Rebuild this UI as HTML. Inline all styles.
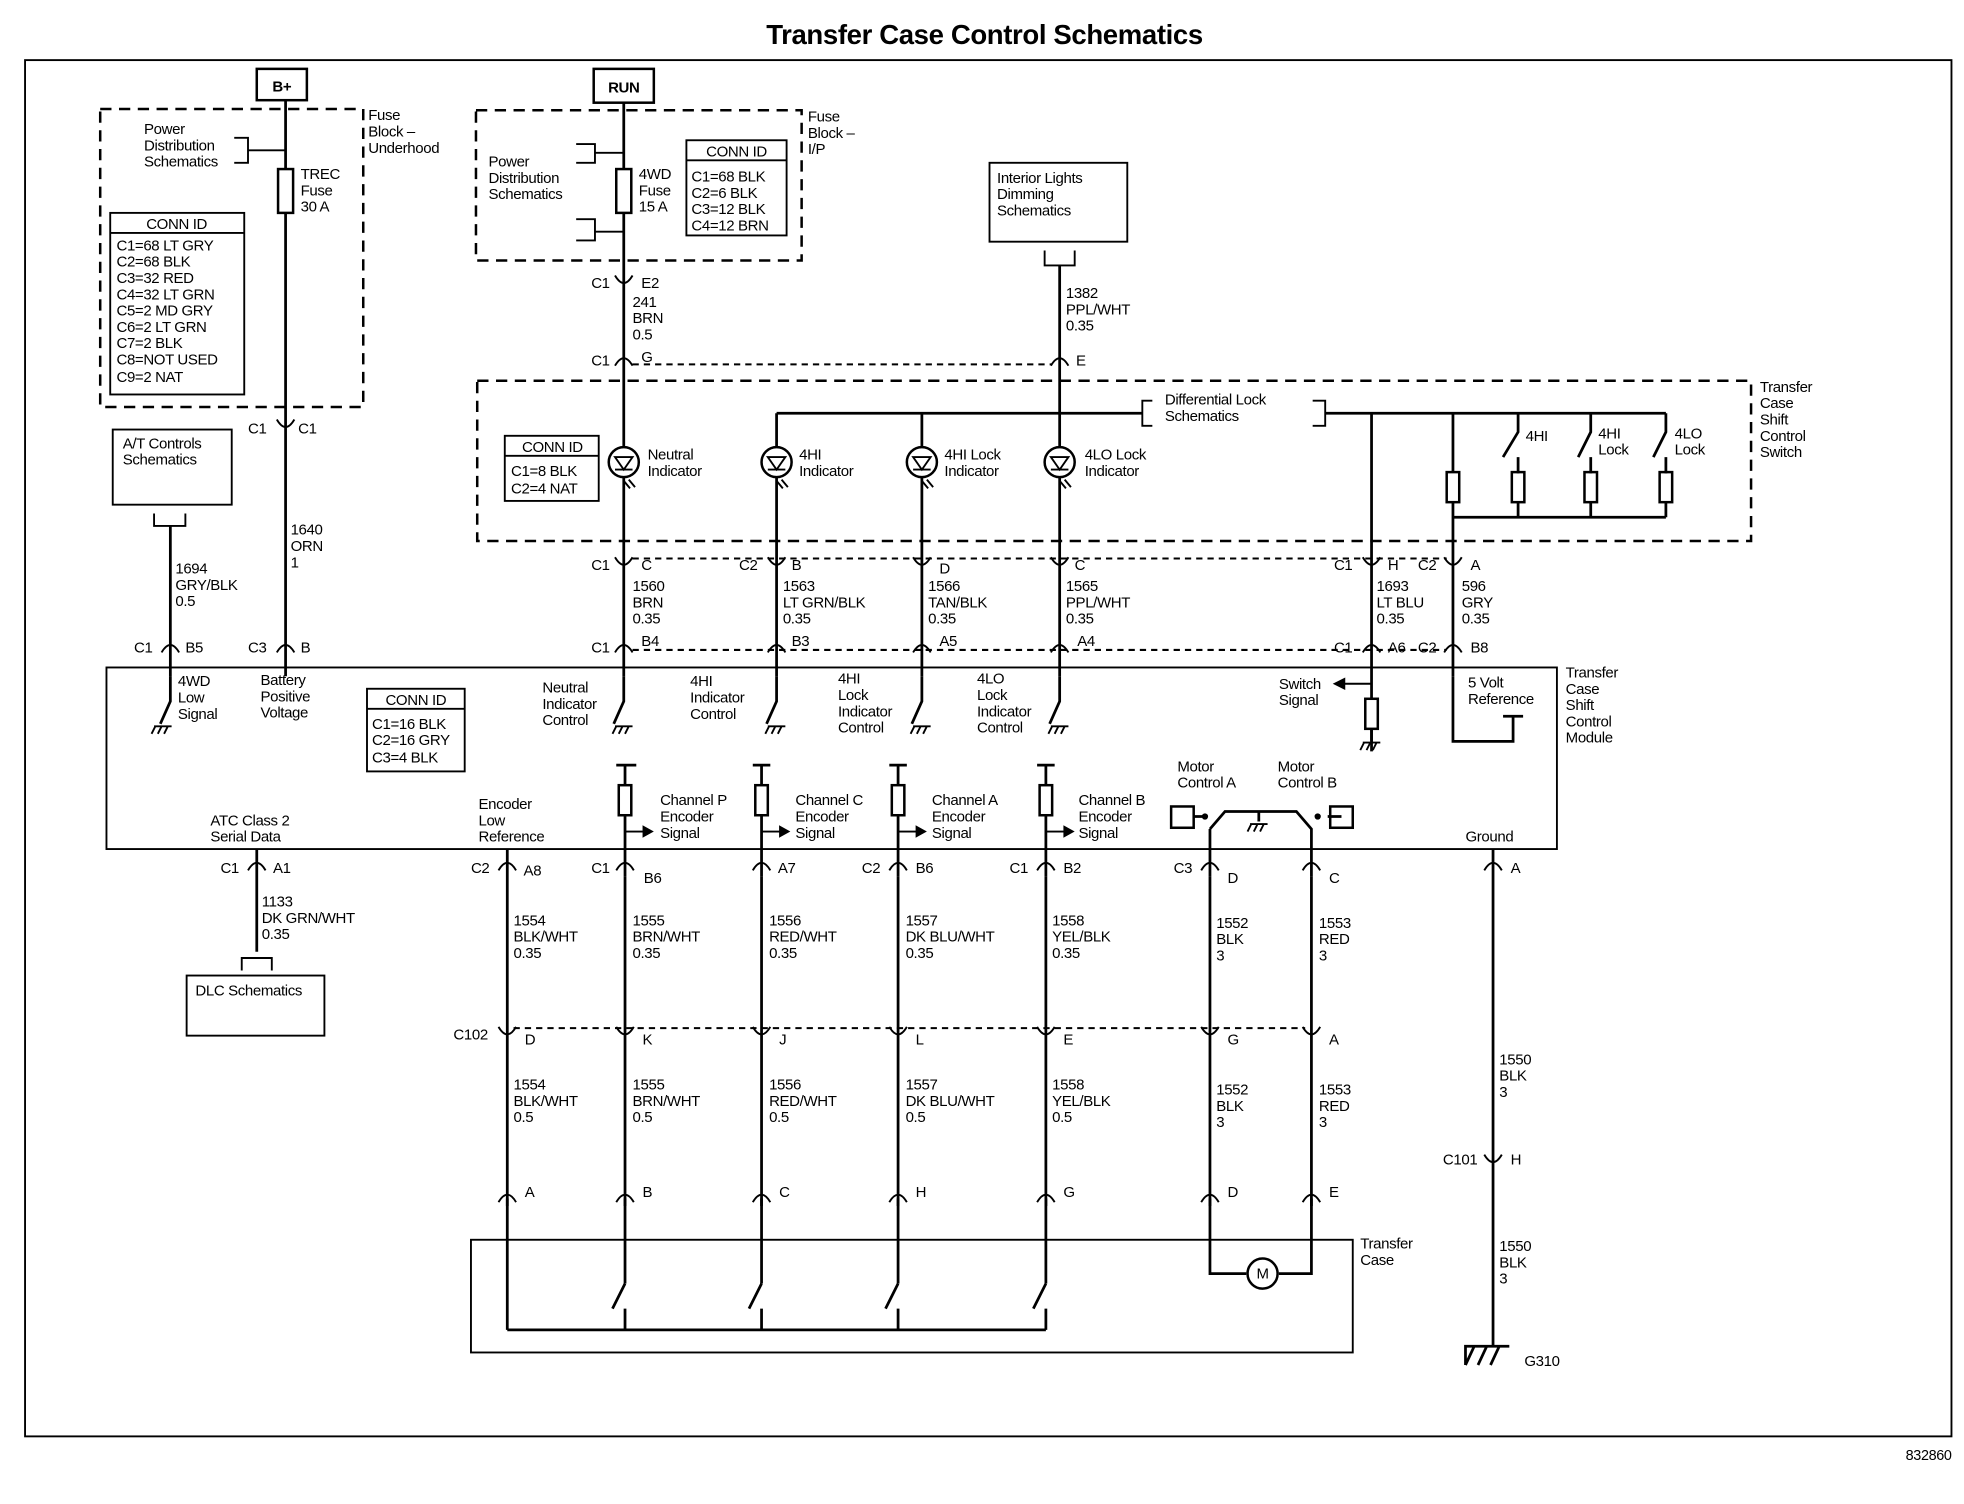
<!DOCTYPE html>
<html><head><meta charset="utf-8"><style>
html,body{margin:0;padding:0;background:#fff}
svg{display:block}
text{font-family:"Liberation Sans",sans-serif;font-size:12px;fill:#000;letter-spacing:-0.3px}
.t{font-size:11.5px}
.w{stroke:#000;stroke-width:2.2;fill:none}
.th{stroke:#000;stroke-width:1.5;fill:none}
.d{stroke:#000;stroke-width:2;fill:none;stroke-dasharray:9 6}
.dd{stroke:#000;stroke-width:1.6;fill:none;stroke-dasharray:5 4}
.b{stroke:#000;stroke-width:2;fill:#fff}
</style></head><body>
<svg width="1964" height="1504" viewBox="0 0 1568 1201" preserveAspectRatio="none" xmlns="http://www.w3.org/2000/svg">
<defs>
<g id="cn"><path d="M-7,5 Q0,-7 7,5" class="th" stroke-width="2"/></g>
<g id="cu"><path d="M-7,-5 Q0,7 7,-5" class="th" stroke-width="2"/></g>
<g id="gnd"><path d="M-7,0 H7 M-6,0 L-9,6 M-1,0 L-4,6 M4,0 L1,6" class="th"/></g>
<g id="led"><circle r="12" class="b"/><path d="M-7,-4 H7 L0,6 Z M-7,6 H7" class="th"/><path d="M4,14 L9,20 M0,15 L5,21" class="th" stroke-width="1"/></g>
<g id="res"><rect x="-5" y="-12" width="10" height="24" class="b" stroke-width="1.5"/></g>
</defs>
<text x="786" y="35" text-anchor="middle" style="font-size:22px;font-weight:bold">Transfer Case Control Schematics</text>
<rect x="20" y="48" width="1538" height="1099" class="th" stroke-width="1.8"/>
<text x="1558" y="1166" text-anchor="end" class="t">832860</text>

<rect x="205" y="55" width="40" height="25" class="b" stroke-width="3"/><text x="225" y="73" text-anchor="middle" style="font-weight:bold">B+</text>
<rect x="80" y="87" width="210" height="238" class="d"/>
<path d="M228,80 V540" class="w"/>
<rect x="222" y="135" width="12" height="35" class="b" stroke-width="1.5"/>
<text x="240" y="143">TREC</text><text x="240" y="156">Fuse</text><text x="240" y="169">30 A</text>
<text x="294" y="96">Fuse</text><text x="294" y="109">Block –</text><text x="294" y="122">Underhood</text>
<text x="115" y="107">Power</text><text x="115" y="120">Distribution</text><text x="115" y="133">Schematics</text>
<path d="M187,110 H198 V130 H187 M198,120 H228" class="th"/>
<rect x="88" y="170" width="107" height="145" class="th" stroke-width="2"/>
<path d="M88,186 H195" class="th"/>
<text x="141" y="183" text-anchor="middle">CONN ID</text>
<text x="93" y="200">C1=68 LT GRY</text><text x="93" y="213">C2=68 BLK</text><text x="93" y="226">C3=32 RED</text><text x="93" y="239">C4=32 LT GRN</text><text x="93" y="252">C5=2 MD GRY</text><text x="93" y="265">C6=2 LT GRN</text><text x="93" y="278">C7=2 BLK</text><text x="93" y="291">C8=NOT USED</text><text x="93" y="305">C9=2 NAT</text>
<use href="#cu" x="228" y="340"/><text x="198" y="346">C1</text><text x="238" y="346">C1</text>
<text x="232" y="427">1640</text><text x="232" y="440">ORN</text><text x="232" y="453">1</text>
<use href="#cn" x="228" y="516"/><text x="198" y="521">C3</text><text x="240" y="521">B</text>

<rect x="90" y="343" width="95" height="60" class="th" stroke-width="2"/>
<text x="98" y="358">A/T Controls</text><text x="98" y="371">Schematics</text>
<path d="M123,410 V420 H148 V410 M136,420 V540" class="th"/><path d="M136,420 V540" class="w"/>
<text x="140" y="458">1694</text><text x="140" y="471">GRY/BLK</text><text x="140" y="484">0.5</text>
<use href="#cn" x="136" y="516"/><text x="107" y="521">C1</text><text x="148" y="521">B5</text>

<rect x="85" y="533" width="1158" height="145" class="th" stroke-width="2"/>
<text x="1250" y="541">Transfer</text><text x="1250" y="554">Case</text><text x="1250" y="567">Shift</text><text x="1250" y="580">Control</text><text x="1250" y="593">Module</text>
<path d="M136,540 V560 L128,578" class="w"/><use href="#gnd" x="130" y="580"/>
<text x="142" y="548">4WD</text><text x="142" y="561">Low</text><text x="142" y="574">Signal</text>
<text x="208" y="547">Battery</text><text x="208" y="560">Positive</text><text x="208" y="573">Voltage</text>
<rect x="293" y="550" width="78" height="66" class="th" stroke-width="2"/><path d="M293,566 H371" class="th"/>
<text x="332" y="563" text-anchor="middle">CONN ID</text><text x="297" y="582">C1=16 BLK</text><text x="297" y="595">C2=16 GRY</text><text x="297" y="609">C3=4 BLK</text>

<rect x="474" y="55" width="48" height="27" class="b" stroke-width="3"/><text x="498" y="74" text-anchor="middle" style="font-weight:bold">RUN</text>
<rect x="380" y="88" width="260" height="120" class="d"/>
<path d="M498,82 V540" class="w"/>
<rect x="492" y="135" width="12" height="35" class="b" stroke-width="1.5"/>
<text x="510" y="143">4WD</text><text x="510" y="156">Fuse</text><text x="510" y="169">15 A</text>
<text x="645" y="97">Fuse</text><text x="645" y="110">Block –</text><text x="645" y="123">I/P</text>
<text x="390" y="133">Power</text><text x="390" y="146">Distribution</text><text x="390" y="159">Schematics</text>
<path d="M460,115 H475 V130 H460 M475,122 H498 M460,175 H475 V192 H460 M475,185 H498" class="th"/>
<rect x="548" y="112" width="80" height="76" class="th" stroke-width="2"/><path d="M548,128 H628" class="th"/>
<text x="588" y="125" text-anchor="middle">CONN ID</text><text x="552" y="145">C1=68 BLK</text><text x="552" y="158">C2=6 BLK</text><text x="552" y="171">C3=12 BLK</text><text x="552" y="184">C4=12 BRN</text>
<use href="#cu" x="498" y="225"/><text x="472" y="230">C1</text><text x="512" y="230">E2</text>
<text x="505" y="245">241</text><text x="505" y="258">BRN</text><text x="505" y="271">0.5</text>
<use href="#cn" x="498" y="287"/><text x="472" y="292">C1</text><text x="512" y="289">G</text>
<path d="M505,291 H840" class="dd"/>

<rect x="790" y="130" width="110" height="63" class="th" stroke-width="2"/>
<text x="796" y="146">Interior Lights</text><text x="796" y="159">Dimming</text><text x="796" y="172">Schematics</text>
<path d="M834,200 V212 H858 V200" class="th"/><path d="M846,212 V540" class="w"/>
<text x="851" y="238">1382</text><text x="851" y="251">PPL/WHT</text><text x="851" y="264">0.35</text>
<use href="#cn" x="846" y="287"/><text x="859" y="292">E</text>

<rect x="381" y="304" width="1017" height="128" class="d"/>
<text x="1405" y="313">Transfer</text><text x="1405" y="326">Case</text><text x="1405" y="339">Shift</text><text x="1405" y="352">Control</text><text x="1405" y="365">Switch</text>
<rect x="403" y="348" width="75" height="52" class="th" stroke-width="2"/><path d="M403,364 H478" class="th"/>
<text x="441" y="361" text-anchor="middle">CONN ID</text><text x="408" y="380">C1=8 BLK</text><text x="408" y="394">C2=4 NAT</text>
<path d="M620,330 H912 M1058,330 H1330 M620,330 V540 M736,330 V540 M1095,330 V600" class="w"/>
<path d="M920,320 H912 V340 H920 M1048,320 H1058 V340 H1048" class="th"/>
<text x="930" y="323">Differential Lock</text><text x="930" y="336">Schematics</text>
<use href="#led" x="498" y="369"/><use href="#led" x="620" y="369"/><use href="#led" x="736" y="369"/><use href="#led" x="846" y="369"/>
<text x="517" y="367">Neutral</text><text x="517" y="380">Indicator</text>
<text x="638" y="367">4HI</text><text x="638" y="380">Indicator</text>
<text x="754" y="367">4HI Lock</text><text x="754" y="380">Indicator</text>
<text x="866" y="367">4LO Lock</text><text x="866" y="380">Indicator</text>
<path d="M1160,330 V378 M1160,400 V540 M1160,413 H1330 M1212,413 V400 M1270,413 V400 M1330,413 V400" class="w"/>
<use href="#res" x="1160" y="389"/><use href="#res" x="1212" y="389"/><use href="#res" x="1270" y="389"/><use href="#res" x="1330" y="389"/>
<path d="M1212,330 V345 L1200,365 M1212,365 V378 M1270,330 V345 L1260,365 M1270,365 V378 M1330,330 V345 L1320,365 M1330,365 V378" class="w"/>
<text x="1218" y="352">4HI</text><text x="1276" y="350">4HI</text><text x="1276" y="363">Lock</text><text x="1337" y="350">4LO</text><text x="1337" y="363">Lock</text>

<path d="M505,446 H1155" class="dd"/>
<use href="#cu" x="498" y="450"/><text x="472" y="455">C1</text><text x="512" y="455">C</text>
<use href="#cu" x="620" y="450"/><text x="590" y="455">C2</text><text x="632" y="455">B</text>
<use href="#cu" x="736" y="450"/><text x="750" y="458">D</text>
<use href="#cu" x="846" y="450"/><text x="858" y="455">C</text>
<use href="#cu" x="1095" y="450"/><text x="1065" y="455">C1</text><text x="1108" y="455">H</text>
<use href="#cu" x="1160" y="450"/><text x="1132" y="455">C2</text><text x="1174" y="455">A</text>
<text x="505" y="472">1560</text><text x="505" y="485">BRN</text><text x="505" y="498">0.35</text>
<text x="625" y="472">1563</text><text x="625" y="485">LT GRN/BLK</text><text x="625" y="498">0.35</text>
<text x="741" y="472">1566</text><text x="741" y="485">TAN/BLK</text><text x="741" y="498">0.35</text>
<text x="851" y="472">1565</text><text x="851" y="485">PPL/WHT</text><text x="851" y="498">0.35</text>
<text x="1099" y="472">1693</text><text x="1099" y="485">LT BLU</text><text x="1099" y="498">0.35</text>
<text x="1167" y="472">596</text><text x="1167" y="485">GRY</text><text x="1167" y="498">0.35</text>
<path d="M505,519 H1155" class="dd"/>
<use href="#cn" x="498" y="516"/><text x="472" y="521">C1</text><text x="512" y="516">B4</text>
<use href="#cn" x="620" y="516"/><text x="632" y="516">B3</text>
<use href="#cn" x="736" y="516"/><text x="750" y="516">A5</text>
<use href="#cn" x="846" y="516"/><text x="860" y="516">A4</text>
<use href="#cn" x="1095" y="516"/><text x="1065" y="521">C1</text><text x="1108" y="521">A6</text>
<use href="#cn" x="1160" y="516"/><text x="1132" y="521">C2</text><text x="1174" y="521">B8</text>

<path d="M498,540 V560 L490,578 M620,540 V560 L612,578 M736,540 V560 L728,578 M846,540 V560 L838,578" class="w"/>
<use href="#gnd" x="498" y="580"/><use href="#gnd" x="620" y="580"/><use href="#gnd" x="736" y="580"/><use href="#gnd" x="846" y="580"/>
<text x="433" y="553">Neutral</text><text x="433" y="566">Indicator</text><text x="433" y="579">Control</text>
<text x="551" y="548">4HI</text><text x="551" y="561">Indicator</text><text x="551" y="574">Control</text>
<text x="669" y="546">4HI</text><text x="669" y="559">Lock</text><text x="669" y="572">Indicator</text><text x="669" y="585">Control</text>
<text x="780" y="546">4LO</text><text x="780" y="559">Lock</text><text x="780" y="572">Indicator</text><text x="780" y="585">Control</text>
<path d="M1095,546 H1070" class="th"/><path d="M1064,546 L1074,541 V551 Z"/>
<use href="#res" x="1095" y="570"/><path d="M1095,582 V592" class="w"/><use href="#gnd" x="1095" y="593"/>
<text x="1021" y="550">Switch</text><text x="1021" y="563">Signal</text>
<path d="M1160,540 V592 H1208 V572 M1200,572 H1216" class="w"/>
<text x="1172" y="549">5 Volt</text><text x="1172" y="562">Reference</text>
<text x="168" y="659">ATC Class 2</text><text x="168" y="672">Serial Data</text>
<text x="382" y="646">Encoder</text><text x="382" y="659">Low</text><text x="382" y="672">Reference</text>

<path d="M492,611 H508 M499,611 V627 M499,652 V700 M601,611 H615 M608,611 V627 M608,652 V700 M710,611 H724 M717,611 V627 M717,652 V700 M828,611 H842 M835,611 V627 M835,652 V700" class="w"/>
<use href="#res" x="499" y="639"/><use href="#res" x="608" y="639"/><use href="#res" x="717" y="639"/><use href="#res" x="835" y="639"/>
<path d="M499,664 H516 M608,664 H625 M717,664 H734 M835,664 H852" class="th"/>
<path d="M522,664 L513,659 V669 Z M631,664 L622,659 V669 Z M740,664 L731,659 V669 Z M858,664 L849,659 V669 Z"/>
<text x="527" y="643">Channel P</text><text x="527" y="656">Encoder</text><text x="527" y="669">Signal</text>
<text x="635" y="643">Channel C</text><text x="635" y="656">Encoder</text><text x="635" y="669">Signal</text>
<text x="744" y="643">Channel A</text><text x="744" y="656">Encoder</text><text x="744" y="669">Signal</text>
<text x="861" y="643">Channel B</text><text x="861" y="656">Encoder</text><text x="861" y="669">Signal</text>
<text x="940" y="616">Motor</text><text x="940" y="629">Control A</text><text x="1020" y="616">Motor</text><text x="1020" y="629">Control B</text>
<rect x="935" y="644" width="18" height="17" class="b"/><rect x="1062" y="644" width="18" height="17" class="b"/>
<path d="M953,652 H962 M966,662 V700 M966,662 L978,648 H1035 L1047,662 V700 M1071,652 H1060 M1005,648 V656" class="w"/>
<circle cx="962" cy="652" r="2.5"/><circle cx="1052" cy="652" r="2.5"/>
<use href="#gnd" x="1005" y="658"/>
<text x="1170" y="672">Ground</text>
<path d="M205,678 V760 M405,678 V1062 M966,700 V1017 H995 M1021,1017 H1047 V700 M1192,678 V1075" class="w"/>

<use href="#cn" x="205" y="690"/><text x="176" y="697">C1</text><text x="218" y="697">A1</text>
<use href="#cn" x="405" y="690"/><text x="376" y="697">C2</text><text x="418" y="699">A8</text>
<use href="#cn" x="499" y="690"/><text x="472" y="697">C1</text><text x="514" y="705">B6</text>
<use href="#cn" x="608" y="690"/><text x="621" y="697">A7</text>
<use href="#cn" x="717" y="690"/><text x="688" y="697">C2</text><text x="731" y="697">B6</text>
<use href="#cn" x="835" y="690"/><text x="806" y="697">C1</text><text x="849" y="697">B2</text>
<use href="#cn" x="966" y="690"/><text x="937" y="697">C3</text><text x="980" y="705">D</text>
<use href="#cn" x="1047" y="690"/><text x="1061" y="705">C</text>
<use href="#cn" x="1192" y="690"/><text x="1206" y="697">A</text>
<text x="209" y="724">1133</text><text x="209" y="737">DK GRN/WHT</text><text x="209" y="750">0.35</text>
<path d="M193,775 V765 H217 V775" class="th"/>
<rect x="149" y="779" width="110" height="48" class="th" stroke-width="2"/><text x="156" y="795">DLC Schematics</text>
<text x="410" y="739">1554</text><text x="410" y="752">BLK/WHT</text><text x="410" y="765">0.35</text>
<text x="505" y="739">1555</text><text x="505" y="752">BRN/WHT</text><text x="505" y="765">0.35</text>
<text x="614" y="739">1556</text><text x="614" y="752">RED/WHT</text><text x="614" y="765">0.35</text>
<text x="723" y="739">1557</text><text x="723" y="752">DK BLU/WHT</text><text x="723" y="765">0.35</text>
<text x="840" y="739">1558</text><text x="840" y="752">YEL/BLK</text><text x="840" y="765">0.35</text>
<text x="971" y="741">1552</text><text x="971" y="754">BLK</text><text x="971" y="767">3</text>
<text x="1053" y="741">1553</text><text x="1053" y="754">RED</text><text x="1053" y="767">3</text>
<path d="M499,700 V1025 M608,700 V1025 M717,700 V1025 M835,700 V1025" class="w"/>

<path d="M410,821 H1042" class="dd"/>
<text x="362" y="830">C102</text>
<use href="#cu" x="405" y="825"/><text x="419" y="834">D</text>
<use href="#cu" x="499" y="825"/><text x="513" y="834">K</text>
<use href="#cu" x="608" y="825"/><text x="622" y="834">J</text>
<use href="#cu" x="717" y="825"/><text x="731" y="834">L</text>
<use href="#cu" x="835" y="825"/><text x="849" y="834">E</text>
<use href="#cu" x="966" y="825"/><text x="980" y="834">G</text>
<use href="#cu" x="1047" y="825"/><text x="1061" y="834">A</text>
<text x="410" y="870">1554</text><text x="410" y="883">BLK/WHT</text><text x="410" y="896">0.5</text>
<text x="505" y="870">1555</text><text x="505" y="883">BRN/WHT</text><text x="505" y="896">0.5</text>
<text x="614" y="870">1556</text><text x="614" y="883">RED/WHT</text><text x="614" y="896">0.5</text>
<text x="723" y="870">1557</text><text x="723" y="883">DK BLU/WHT</text><text x="723" y="896">0.5</text>
<text x="840" y="870">1558</text><text x="840" y="883">YEL/BLK</text><text x="840" y="896">0.5</text>
<text x="971" y="874">1552</text><text x="971" y="887">BLK</text><text x="971" y="900">3</text>
<text x="1053" y="874">1553</text><text x="1053" y="887">RED</text><text x="1053" y="900">3</text>
<text x="1197" y="850">1550</text><text x="1197" y="863">BLK</text><text x="1197" y="876">3</text>
<use href="#cu" x="1192" y="927"/><text x="1152" y="930">C101</text><text x="1206" y="930">H</text>
<text x="1197" y="999">1550</text><text x="1197" y="1012">BLK</text><text x="1197" y="1025">3</text>

<g>
<use href="#cn" x="405" y="955"/><use href="#cn" x="499" y="955"/><use href="#cn" x="608" y="955"/><use href="#cn" x="717" y="955"/><use href="#cn" x="835" y="955"/><use href="#cn" x="966" y="955"/><use href="#cn" x="1047" y="955"/>
<path d="M405,957 V963 M499,957 V963 M608,957 V963 M717,957 V963 M835,957 V963 M966,957 V963 M1047,957 V963" class="w" stroke-width="4"/>
</g>
<text x="419" y="956">A</text><text x="513" y="956">B</text><text x="622" y="956">C</text><text x="731" y="956">H</text><text x="849" y="956">G</text><text x="980" y="956">D</text><text x="1061" y="956">E</text>

<rect x="376" y="990" width="704" height="90" class="th" stroke-width="2"/>
<text x="1086" y="997">Transfer</text><text x="1086" y="1010">Case</text>
<path d="M405,1062 H835 M499,1025 L489,1045 M499,1045 V1062 M608,1025 L598,1045 M608,1045 V1062 M717,1025 L707,1045 M717,1045 V1062 M835,1025 L825,1045 M835,1045 V1062" class="w"/>
<circle cx="1008" cy="1017" r="12" class="b"/><text x="1008" y="1021" text-anchor="middle">M</text>

<path d="M1170,1090 V1075 H1205 M1177,1075 L1170,1090 M1187,1075 L1180,1090 M1197,1075 L1190,1090" class="w"/>
<text x="1217" y="1091">G310</text>
</svg>
</body></html>
